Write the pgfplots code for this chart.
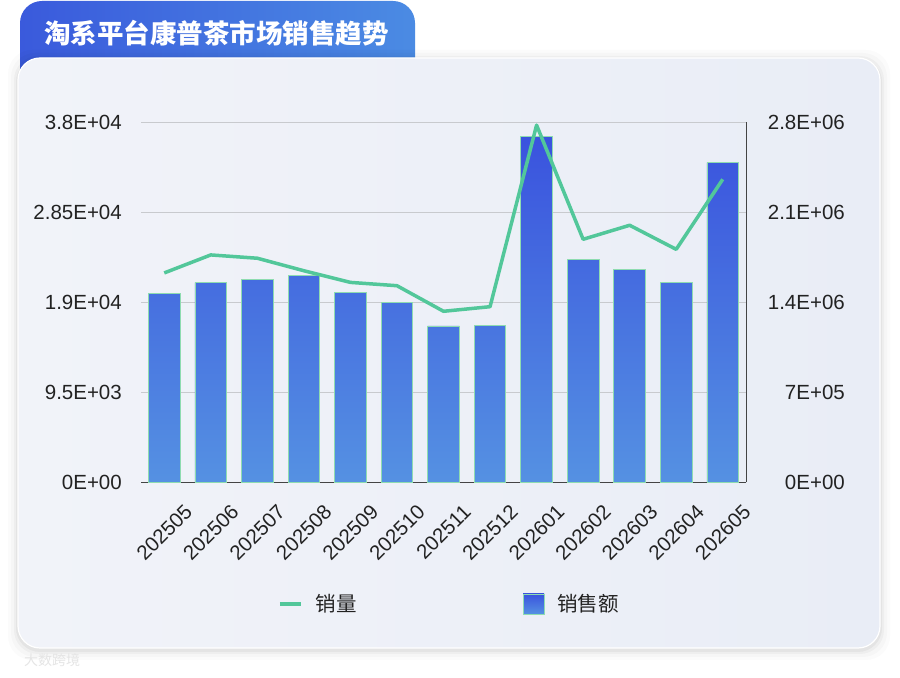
\documentclass[border=0pt]{standalone}
\usepackage{fontspec}
\setmainfont{Liberation Sans}
\newfontfamily\cjk{Noto Sans CJK SC}
\usepackage{pgfplots}
\pgfplotsset{compat=1.18}
\definecolor{barTop}{HTML}{3A53DE}
\definecolor{barBot}{HTML}{5591E2}
\definecolor{barEdge}{HTML}{8EDCB0}
\definecolor{lineG}{HTML}{52C79A}
\definecolor{gridc}{HTML}{C8CACE}
\definecolor{axisc}{HTML}{444444}
\definecolor{labelc}{HTML}{222222}
\definecolor{tabL}{HTML}{3A5ADC}
\definecolor{tabR}{HTML}{4B8BE3}
\definecolor{cardL}{HTML}{F1F3F9}
\definecolor{cardR}{HTML}{E9EDF6}
\begin{document}
\begin{tikzpicture}[x=1bp,y=1bp]
\useasboundingbox (0,0) rectangle (900,678);
\fill[white] (0,0) rectangle (900,678);
% title tab
\shade[left color=tabL, right color=tabR, rounded corners=22bp] (20,560) rectangle (415,677);
% card shadow
\foreach \i/\o in {10/0.015,7/0.02,4/0.03,2/0.04} {
  \fill[black, opacity=\o, rounded corners=24bp] (18-\i,30-\i-2) rectangle (880+\i,620+\i-2);
}
\shade[left color=cardL, right color=cardR, rounded corners=22bp] (18,30) rectangle (880,620);
\draw[white, line width=1.2bp, rounded corners=22bp] (18,30) rectangle (880,620);
\node[anchor=west, inner sep=0pt, text=white, font=\cjk\bfseries\fontsize{26.5bp}{30bp}\selectfont] at (44,645) {淘系平台康普茶市场销售趋势};
\node[anchor=west, inner sep=0pt, text=black!10, font=\cjk\fontsize{14bp}{16bp}\selectfont] at (24,18) {大数跨境};

% bars: sales amount, right axis
\begin{axis}[
  at={(141bp,195.7bp)}, anchor=south west, scale only axis,
  width=605bp, height=360bp,
  xmin=-0.5, xmax=12.5, ymin=0, ymax=2800000,
  axis y line*=right, axis x line*=bottom,
  axis line style={-, axisc, line width=1bp},
  xtick={0,...,12},
  xticklabels={202505,202506,202507,202508,202509,202510,202511,202512,202601,202602,202603,202604,202605},
  ytick={0,700000,1400000,2100000,2800000},
  yticklabels={0E+00,7E+05,1.4E+06,2.1E+06,2.8E+06},
  scaled y ticks=false,
  ymajorgrids, grid style={gridc, line width=1bp},
  major tick length=0pt,
  tick label style={font=\fontsize{20.5bp}{24bp}\selectfont, text=labelc},
  yticklabel style={anchor=east, inner sep=0pt, xshift=99bp},
  xticklabel style={inner sep=0pt, yshift=-50bp, rotate=45, anchor=center},
]
\addplot[ybar, bar width=0.68, draw=barEdge, line width=0.8bp, top color=barTop, bottom color=barBot]
coordinates {
(0,1470000) (1,1553000) (2,1581000) (3,1607000) (4,1478000) (5,1400000) (6,1216000)
(7,1218000) (8,2688000) (9,1731000) (10,1657000) (11,1555000) (12,2486000)
};
\end{axis}

% line: sales volume, left axis
\begin{axis}[
  at={(141bp,195.7bp)}, anchor=south west, scale only axis,
  width=605bp, height=360bp,
  xmin=-0.5, xmax=12.5, ymin=0, ymax=38000,
  hide x axis,
  axis y line*=left,
  y axis line style={draw=none},
  ytick={0,9500,19000,28500,38000},
  yticklabels={0E+00,9.5E+03,1.9E+04,2.85E+04,3.8E+04},
  scaled y ticks=false,
  major tick length=0pt,
  tick label style={font=\fontsize{20.5bp}{24bp}\selectfont, text=labelc},
  yticklabel style={anchor=east, inner sep=0pt, xshift=-19bp},
  legend columns=2,
  legend style={at={(0.2264,-0.338)}, anchor=west, draw=none, fill=none, inner sep=0pt,
    font=\cjk\fontsize{20.5bp}{24bp}\selectfont, text=labelc,
    nodes={inner sep=0pt},
    /tikz/every odd column/.append style={column sep=13bp},
    /tikz/every even column/.append style={column sep=166bp}},
]
\addplot[lineG, line width=3.5bp, line join=round,
  legend image code/.code={\draw[lineG, line width=3.5bp] (0bp,0bp) -- (21bp,0bp);}]
coordinates {
(0,22100) (1,24000) (2,23650) (3,22330) (4,21100) (5,20750) (6,18050)
(7,18535) (8,37700) (9,25650) (10,27130) (11,24590) (12,31980)
};
\addlegendentry{销量}
\addlegendimage{legend image code/.code={\draw[draw=barEdge, line width=0.8bp, top color=barTop, bottom color=barBot] (0bp,-10bp) rectangle (21bp,10bp);}}
\addlegendentry{销售额}
\end{axis}
\end{tikzpicture}
\end{document}
